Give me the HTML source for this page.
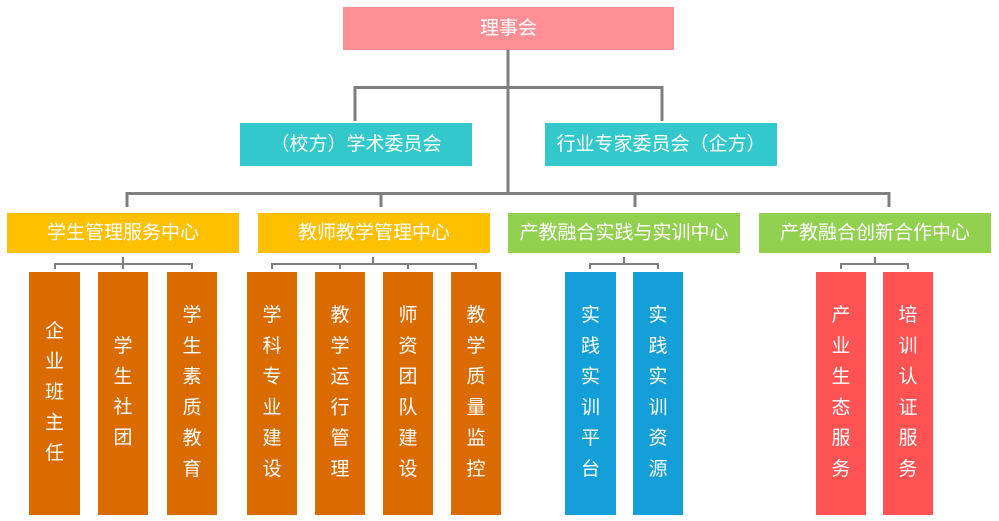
<!DOCTYPE html>
<html><head><meta charset="utf-8"><style>
html,body{margin:0;padding:0;background:#fff;}
svg{display:block;}
text{font-family:"Liberation Sans","Noto Sans CJK SC",sans-serif;fill:#fff;font-size:19px;text-anchor:middle;dominant-baseline:central;}
</style></head><body>
<svg width="999" height="521" viewBox="0 0 999 521" xmlns="http://www.w3.org/2000/svg">
<g stroke="#7f7f7f" stroke-width="3" fill="none">
<line x1="508" y1="50" x2="508" y2="194"/>
<polyline points="355,121 355,87.5 662,87.5 662,121"/>
<polyline points="127,207 127,193.5 889,193.5 889,207"/>
<line x1="381" y1="193" x2="381" y2="207"/>
<line x1="635" y1="193" x2="635" y2="207"/>
</g>
<g stroke="#7f7f7f" stroke-width="2" fill="none">
<polyline points="55,269 55,264 192,264 192,269"/><line x1="123" y1="257" x2="123" y2="269"/>
<polyline points="272,269 272,264 476,264 476,269"/><line x1="373" y1="257" x2="373" y2="264"/><line x1="340" y1="264" x2="340" y2="269"/><line x1="408" y1="264" x2="408" y2="269"/>
<polyline points="590,269 590,264 658,264 658,269"/><line x1="624" y1="257" x2="624" y2="264"/>
<polyline points="841,269 841,264 908,264 908,269"/><line x1="875" y1="257" x2="875" y2="264"/>
</g>
<rect x="343" y="7" width="331" height="43" fill="#ff8f94"/>
<text x="508.5" y="28.5">理事会</text>
<rect x="240" y="123" width="232" height="43" fill="#33c9cc"/>
<text x="356" y="144.5">（校方）学术委员会</text>
<rect x="545" y="123" width="232" height="43" fill="#33c9cc"/>
<text x="661" y="144.5">行业专家委员会（企方）</text>
<rect x="7" y="213" width="232" height="40" fill="#ffc000"/>
<text x="123" y="233">学生管理服务中心</text>
<rect x="258" y="213" width="232" height="40" fill="#ffc000"/>
<text x="374" y="233">教师教学管理中心</text>
<rect x="508" y="213" width="232" height="40" fill="#92d050"/>
<text x="624" y="233">产教融合实践与实训中心</text>
<rect x="759" y="213" width="232" height="40" fill="#92d050"/>
<text x="875" y="233">产教融合创新合作中心</text>
<g fill="#d96b00">
<rect x="29" y="272" width="51" height="243"/>
<rect x="98" y="272" width="50" height="243"/>
<rect x="167" y="272" width="50" height="243"/>
<rect x="247" y="272" width="50" height="243"/>
<rect x="315" y="272" width="50" height="243"/>
<rect x="383" y="272" width="50" height="243"/>
<rect x="451" y="272" width="50" height="243"/>
</g>
<g fill="#159fd8">
<rect x="565" y="272" width="51" height="243"/>
<rect x="633" y="272" width="50" height="243"/>
</g>
<g fill="#ff5252">
<rect x="816" y="272" width="50" height="243"/>
<rect x="883" y="272" width="50" height="243"/>
</g>
<!-- 5 chars -->
<g>
<text x="54.5" y="331.5">企</text><text x="54.5" y="362">业</text><text x="54.5" y="392.5">班</text><text x="54.5" y="423">主</text><text x="54.5" y="453.5">任</text>
</g>
<!-- 4 chars -->
<g>
<text x="123" y="346.5">学</text><text x="123" y="377">生</text><text x="123" y="407.5">社</text><text x="123" y="438">团</text>
</g>
<!-- 6 chars columns -->
<g>
<text x="192" y="315.5">学</text><text x="192" y="346.3">生</text><text x="192" y="377.1">素</text><text x="192" y="407.9">质</text><text x="192" y="438.7">教</text><text x="192" y="469.5">育</text>
<text x="272" y="315.5">学</text><text x="272" y="346.3">科</text><text x="272" y="377.1">专</text><text x="272" y="407.9">业</text><text x="272" y="438.7">建</text><text x="272" y="469.5">设</text>
<text x="340" y="315.5">教</text><text x="340" y="346.3">学</text><text x="340" y="377.1">运</text><text x="340" y="407.9">行</text><text x="340" y="438.7">管</text><text x="340" y="469.5">理</text>
<text x="408" y="315.5">师</text><text x="408" y="346.3">资</text><text x="408" y="377.1">团</text><text x="408" y="407.9">队</text><text x="408" y="438.7">建</text><text x="408" y="469.5">设</text>
<text x="476" y="315.5">教</text><text x="476" y="346.3">学</text><text x="476" y="377.1">质</text><text x="476" y="407.9">量</text><text x="476" y="438.7">监</text><text x="476" y="469.5">控</text>
<text x="590.5" y="315.5">实</text><text x="590.5" y="346.3">践</text><text x="590.5" y="377.1">实</text><text x="590.5" y="407.9">训</text><text x="590.5" y="438.7">平</text><text x="590.5" y="469.5">台</text>
<text x="658" y="315.5">实</text><text x="658" y="346.3">践</text><text x="658" y="377.1">实</text><text x="658" y="407.9">训</text><text x="658" y="438.7">资</text><text x="658" y="469.5">源</text>
<text x="841" y="315.5">产</text><text x="841" y="346.3">业</text><text x="841" y="377.1">生</text><text x="841" y="407.9">态</text><text x="841" y="438.7">服</text><text x="841" y="469.5">务</text>
<text x="908" y="315.5">培</text><text x="908" y="346.3">训</text><text x="908" y="377.1">认</text><text x="908" y="407.9">证</text><text x="908" y="438.7">服</text><text x="908" y="469.5">务</text>
</g>
</svg>
</body></html>
